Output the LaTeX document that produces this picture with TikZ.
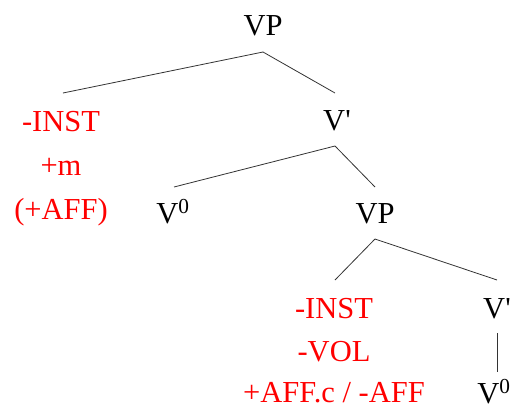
\documentclass[tikz,border=0pt]{standalone}
\usepackage{fontspec}
\setmainfont{Liberation Serif}
\begin{document}
\begin{tikzpicture}[x=1pt,y=-1pt,
  lab/.style={inner sep=0pt,anchor=base,font=\fontsize{30.5}{36}\selectfont,text=black},
  feat/.style={lab,text=red},
  edge/.style={draw=black!80,line width=0.8pt}]
\useasboundingbox (0,0) rectangle (512,410);
% nodes
\node[lab]  (vp1)  at (263,35)  {VP};
\node[feat] (inst1) at (61,131) {-INST};
\node[feat] (m1)    at (61,175) {+m};
\node[feat] (aff1)  at (61,219) {(+AFF)};
\node[lab]  (vb1)  at (337,130) {V\textquotesingle};
\node[lab]  (v01)  at (173,223) {V\textsuperscript{0}};
\node[lab]  (vp2)  at (375,223) {VP};
\node[feat] (inst2) at (334,318) {-INST};
\node[feat] (vol2)  at (334,361) {-VOL};
\node[feat] (aff2)  at (334,402) {+AFF.c / -AFF};
\node[lab]  (vb2)  at (497,318) {V\textquotesingle};
\node[lab]  (v02)  at (494,403) {V\textsuperscript{0}};
% connectors
\draw[edge] ([yshift=-17pt]vp1.base) -- ([xshift=2pt,yshift=38pt]inst1.base);
\draw[edge] ([yshift=-17pt]vp1.base) -- ([xshift=-2pt,yshift=37pt]vb1.base);
\draw[edge] ([xshift=-2pt,yshift=-16pt]vb1.base) -- ([xshift=1pt,yshift=36pt]v01.base);
\draw[edge] ([xshift=-2pt,yshift=-16pt]vb1.base) -- ([yshift=36pt]vp2.base);
\draw[edge] ([yshift=-16pt]vp2.base) -- ([xshift=1pt,yshift=38pt]inst2.base);
\draw[edge] ([yshift=-16pt]vp2.base) -- ([yshift=38pt]vb2.base);
\draw[edge] ([yshift=-15pt]vb2.base) -- ([yshift=31pt]vb2.base |- v02.base);
\end{tikzpicture}
\end{document}
